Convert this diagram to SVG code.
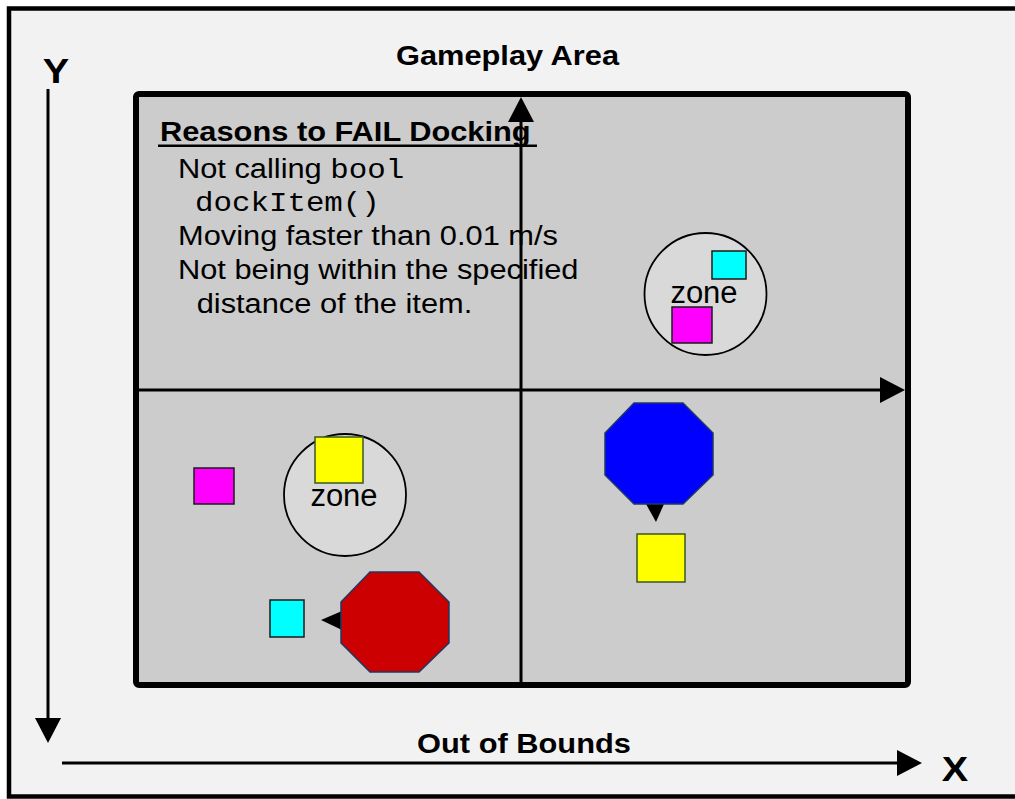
<svg xmlns="http://www.w3.org/2000/svg" width="1015" height="799" viewBox="0 0 1015 799">
  <style>
    .t { font-family: "Liberation Sans", Arial, sans-serif; fill: #000; }
    .b { font-weight: bold; }
    .m { font-family: "Liberation Mono", "Courier New", monospace; }
    .ax { stroke: #000; stroke-width: 3; fill: none; }
    .sq { stroke: #1a1a1a; stroke-width: 1.5; }
    .yl { fill: #ffff00; stroke: #385723; stroke-width: 1.5; }
    .oct { stroke: #1f3864; stroke-width: 1.5; }
    .zone { fill: #d9d9d9; stroke: #000; stroke-width: 1.8; }
  </style>
  <defs>
    <marker id="ah" viewBox="0 0 25 26" refX="17" refY="13" markerWidth="25" markerHeight="26" markerUnits="userSpaceOnUse" orient="auto">
      <path d="M0,0 L25,13 L0,26 Z" fill="#000"/>
    </marker>
  </defs>

  <rect x="0" y="0" width="1015" height="799" fill="#ffffff"/>
  <g id="outer-frame">
    <rect x="9" y="8.5" width="1020" height="788" fill="#f2f2f2" stroke="#000" stroke-width="4.5"/>
  </g>

  <g id="gameplay-area">
    <rect x="136" y="94" width="772" height="591" rx="3" fill="#cccccc" stroke="#000" stroke-width="6"/>
    <text class="t b" font-size="28" transform="translate(507.5,65) scale(1.1,1)" text-anchor="middle">Gameplay Area</text>
  </g>

  <g id="connectors">
    <path class="ax" d="M48,89 L48,735" marker-end="url(#ah)"/>
    <path class="ax" d="M62,763 L914,763" marker-end="url(#ah)"/>
    <path class="ax" d="M138,390 L897,390" marker-end="url(#ah)"/>
    <path class="ax" d="M521,685 L521,105" marker-end="url(#ah)"/>
    <path d="M321,620 L342,611 L342,630 Z" fill="#000"/>
    <path d="M646,504 L664,504 L656,522 Z" fill="#000"/>
  </g>

  <g id="axis-labels">
    <text class="t b" font-size="36" transform="translate(56,83) scale(1.1,1)" text-anchor="middle">Y</text>
    <text class="t b" font-size="36" transform="translate(955,781) scale(1.1,1)" text-anchor="middle">X</text>
    <text class="t b" font-size="28" transform="translate(524,753) scale(1.1,1)" text-anchor="middle">Out of Bounds</text>
  </g>

  <g id="fail-reasons">
    <g transform="translate(160,141) scale(1.1,1)">
      <text class="t b" font-size="28" x="0" y="0">Reasons to FAIL Docking</text>
    </g>
    <rect x="158" y="144.5" width="379" height="2.5" fill="#000"/>
    <g transform="translate(178,0) scale(1.1,1)">
      <text class="t" font-size="28" x="0" y="178">Not calling <tspan class="m">bool</tspan></text>
      <text class="t m" font-size="28" x="15.5" y="211">dockItem()</text>
      <text class="t" font-size="28" x="0" y="245">Moving faster than 0.01 m/s</text>
      <text class="t" font-size="28" x="0" y="279">Not being within the specified</text>
      <text class="t" font-size="28" x="17" y="313">distance of the item.</text>
    </g>
  </g>

  <g id="zone-top">
    <circle class="zone" cx="705.5" cy="294" r="61"/>
    <text class="t" font-size="31" x="704" y="303" text-anchor="middle">zone</text>
    <rect class="sq" x="712" y="251" width="34" height="28" fill="#00ffff"/>
    <rect class="sq" x="672" y="307" width="40" height="36" fill="#ff00ff"/>
  </g>

  <g id="zone-bottom">
    <circle class="zone" cx="345" cy="495" r="61"/>
    <rect class="yl" x="315" y="437" width="48" height="46"/>
    <text class="t" font-size="31" x="344" y="506" text-anchor="middle">zone</text>
  </g>

  <g id="magenta-left">
    <rect class="sq" x="194" y="468" width="40" height="36" fill="#ff00ff"/>
  </g>
  <g id="cyan-bottom">
    <rect class="sq" x="270" y="600" width="34" height="37" fill="#00ffff"/>
  </g>
  <g id="red-robot">
    <polygon class="oct" points="370,572 419,572 449,602 449,643 419,672 370,672 341,643 341,602" fill="#cc0000"/>
  </g>
  <g id="blue-robot">
    <polygon class="oct" points="634,403 683,403 713,433 713,475 683,504 634,504 605,475 605,433" fill="#0000ff"/>
  </g>
  <g id="yellow-right">
    <rect class="yl" x="637" y="534" width="48" height="48"/>
  </g>
</svg>
